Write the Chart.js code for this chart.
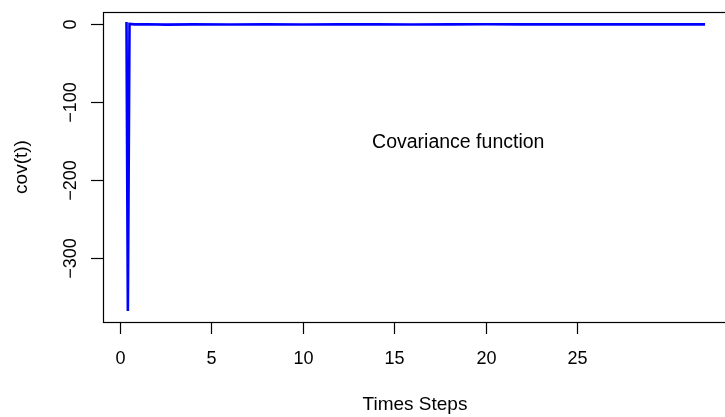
<!DOCTYPE html>
<html>
<head>
<meta charset="utf-8">
<script src="https://cdn.jsdelivr.net/npm/chart.js@4.4.1/dist/chart.umd.min.js"></script>
<style>
  html, body { margin: 0; padding: 0; background: #fff; }
  #wrap { width: 725px; height: 417px; overflow: hidden; position: relative; }
  #box { width: 745px; height: 417px; }
</style>
</head>
<body>
<div id="wrap"><div id="box"><canvas id="covChart"></canvas></div></div>
<script>
// values
const timeSteps = [0.355, 0.43, 0.52, 0.8, 1.5, 2.5, 4, 6, 8, 10, 12, 14, 16, 18, 20, 22, 24, 26, 28, 30, 32];
const covValues = [2.5, -368, 0, -0.5, -0.3, -0.8, -0.5, -0.6, -0.4, -0.7, -0.5, -0.4, -0.6, -0.5, -0.3, -0.5, -0.4, -0.5, -0.4, -0.5, -0.5];
const xTicks = [0, 5, 10, 15, 20, 25];
const yTicks = [0, -100, -200, -300];
const xRange = [-0.93, 33.2];
const yRange = [-382, 15.4];

const FONT = '"Liberation Sans", Arial, sans-serif';

const rBasePlot = {
  id: "rbaseplot",
  afterDraw(chart) {
    const { ctx, chartArea: { top, bottom, left, right }, scales: { x, y } } = chart;
    ctx.save();
    ctx.strokeStyle = "#000";
    ctx.lineWidth = 1.2;
    ctx.fillStyle = "#000";

    // box round the plot region
    ctx.strokeRect(Math.round(left) + 0.5, Math.round(top) + 0.5, right - left, bottom - top);

    // x axis ticks + labels
    ctx.font = `18px ${FONT}`;
    ctx.textAlign = "center";
    ctx.textBaseline = "alphabetic";
    xTicks.forEach((v) => {
      const px = Math.round(x.getPixelForValue(v)) + 0.5;
      ctx.beginPath();
      ctx.moveTo(px, bottom);
      ctx.lineTo(px, bottom + 12);
      ctx.stroke();
      ctx.fillText(String(v), px, 364);
    });

    // y axis ticks + rotated labels
    yTicks.forEach((v) => {
      const py = Math.round(y.getPixelForValue(v)) + 0.5;
      ctx.beginPath();
      ctx.moveTo(left, py);
      ctx.lineTo(left - 12, py);
      ctx.stroke();
      ctx.save();
      ctx.translate(76, py);
      ctx.rotate(-Math.PI / 2);
      ctx.fillText(String(v).replace("-", "\u2212"), 0, 0);
      ctx.restore();
    });

    // axis titles
    ctx.font = `19px ${FONT}`;
    ctx.fillText("Times Steps", (left + right) / 2, 410);
    ctx.save();
    ctx.translate(22, (top + bottom) / 2);
    ctx.rotate(-Math.PI / 2);
    ctx.textBaseline = "middle";
    ctx.fillText("cov(t))", 0, 0);
    ctx.restore();

    // annotation inside the plot
    ctx.font = `19.5px ${FONT}`;
    ctx.fillText("Covariance function", x.getPixelForValue(18.5), 148);
    ctx.restore();
  },
};

const covCtx = document.getElementById("covChart").getContext("2d");
const covChart = new Chart(covCtx, {
  type: "line",
  data: {
    datasets: [
      {
        label: "cov(t)",
        data: timeSteps.map((t, i) => ({ x: t, y: covValues[i] })),
        borderColor: "#0000ff",
        borderWidth: 2.6,
        pointRadius: 0,
        tension: 0,
        fill: false,
      },
    ],
  },
  options: {
    responsive: true,
    maintainAspectRatio: false,
    animation: false,
    layout: {
      padding: { left: 103, top: 12, right: 18, bottom: 95 },
    },
    scales: {
      x: { type: "linear", display: false, min: xRange[0], max: xRange[1] },
      y: { type: "linear", display: false, min: yRange[0], max: yRange[1] },
    },
    plugins: {
      legend: { display: false },
      tooltip: { enabled: false },
    },
  },
  plugins: [rBasePlot],
});
</script>
</body>
</html>
